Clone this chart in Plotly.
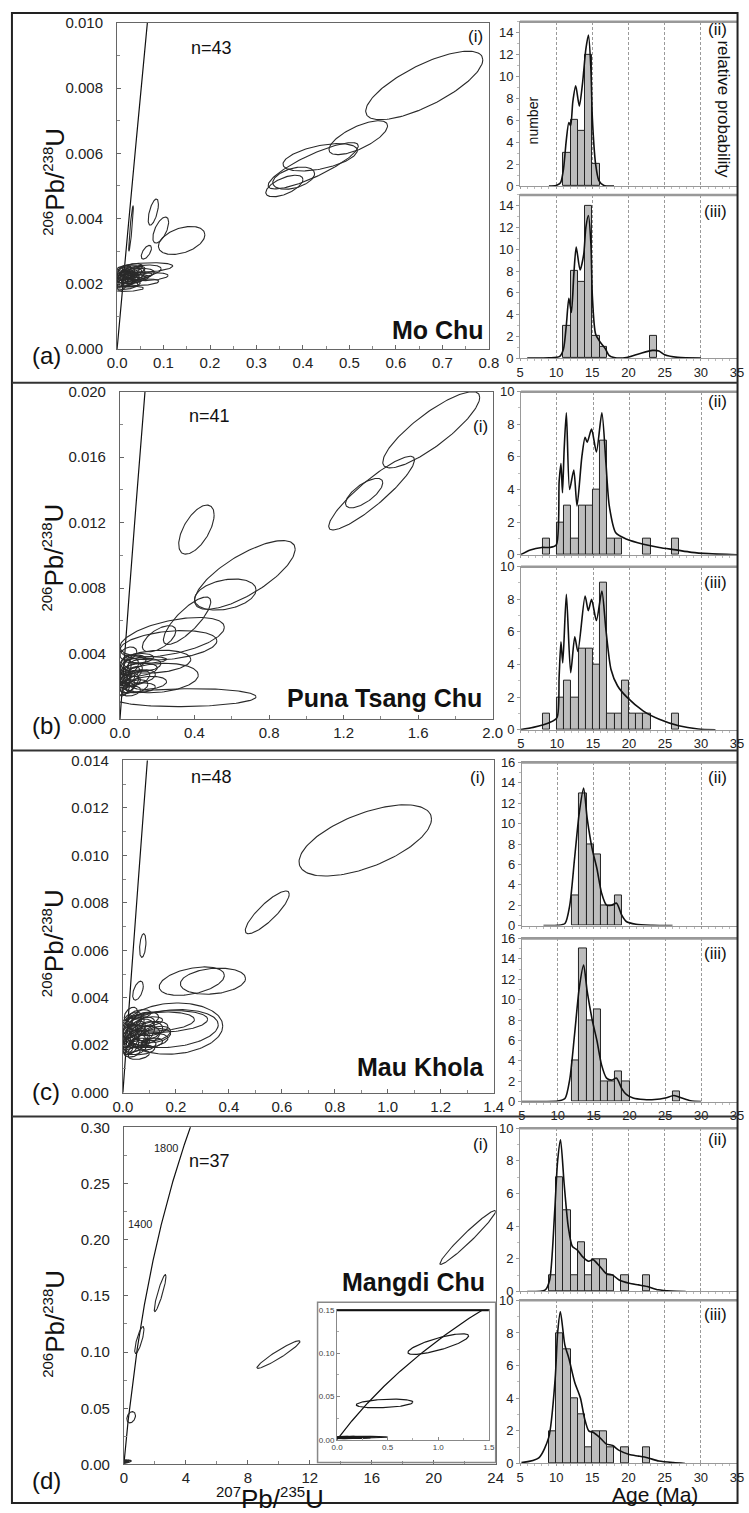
import numpy as np
import plotly.graph_objects as go

W, H = 749, 1513
FONT = "Liberation Sans, Arial, Helvetica, sans-serif"

# ---------------- decay constants (concordia reference curve) ----------------
L238 = 1.55125e-10
L235 = 9.8485e-10

# ---------------- concordia ellipses (centre, half-widths, correlation) -------
# (a) Mo Chu
A_CX = [0.661, 0.519, 0.422, 0.437, 0.380, 0.360, 0.030, 0.078, 0.094, 0.139, 0.063,
        0.060, 0.050, 0.040, 0.030, 0.022, 0.025, 0.020, 0.015, 0.018, 0.028, 0.035,
        0.012, 0.010, 0.033, 0.045, 0.020, 0.008, 0.038, 0.026, 0.016, 0.042, 0.030,
        0.022, 0.035, 0.014, 0.048, 0.024, 0.070, 0.055, 0.012, 0.028, 0.040]
A_CY = [0.00808, 0.00648, 0.00562, 0.00588, 0.00524, 0.00500, 0.00370, 0.00420, 0.00365,
        0.00333, 0.00297, 0.00250, 0.00238, 0.00230, 0.00225, 0.00185, 0.00215, 0.00230,
        0.00220, 0.00205, 0.00240, 0.00215, 0.00240, 0.00210, 0.00250, 0.00225, 0.00195,
        0.00225, 0.00232, 0.00228, 0.00245, 0.00242, 0.00200, 0.00222, 0.00225, 0.00232,
        0.00218, 0.00210, 0.00222, 0.00205, 0.00200, 0.00235, 0.00218]
A_SX = [0.126, 0.063, 0.097, 0.080, 0.045, 0.040, 0.005, 0.011, 0.017, 0.050, 0.011,
        0.060, 0.045, 0.040, 0.030, 0.035, 0.022, 0.018, 0.015, 0.016, 0.020, 0.025,
        0.012, 0.010, 0.022, 0.030, 0.025, 0.010, 0.015, 0.012, 0.014, 0.018, 0.020,
        0.010, 0.010, 0.008, 0.020, 0.015, 0.040, 0.035, 0.012, 0.006, 0.008]
A_SY = [0.00105, 0.00052, 0.00071, 0.00042, 0.00034, 0.00033, 0.00070, 0.00040, 0.00040,
        0.00043, 0.00021, 0.00015, 0.00020, 0.00018, 0.00025, 0.00008, 0.00022, 0.00020,
        0.00018, 0.00015, 0.00016, 0.00014, 0.00015, 0.00020, 0.00012, 0.00012, 0.00012,
        0.00025, 0.00015, 0.00012, 0.00012, 0.00012, 0.00010, 0.00010, 0.00010, 0.00012,
        0.00010, 0.00016, 0.00012, 0.00010, 0.00020, 0.00008, 0.00008]
A_RHO = [0.75, 0.70, 0.85, 0.50, 0.40, 0.60, 0.90, 0.60, 0.60, 0.40, 0.60,
         0.30, 0.40, 0.30, 0.50, 0.20, 0.40, 0.50, 0.40, 0.30, 0.40, 0.30,
         0.50, 0.50, 0.30, 0.30, 0.30, 0.50, 0.50, 0.50, 0.40, 0.40, 0.30,
         0.50, 0.50, 0.60, 0.30, 0.40, 0.30, 0.30, 0.50, 0.50, 0.50]

# (b) Puna Tsang Chu
B_CX = [1.67, 1.35, 1.31, 0.41, 0.67, 0.565, 0.36, 0.21, 0.28, 0.26, 0.19, 0.20, 0.35, 0.15,
        0.10, 0.08, 0.05, 0.04, 0.06, 0.03, 0.02, 0.07, 0.12, 0.05, 0.09, 0.03, 0.15, 0.04,
        0.02, 0.08, 0.06, 0.11, 0.045, 0.025, 0.10, 0.035, 0.075, 0.055, 0.015, 0.13, 0.045]
B_CY = [0.01767, 0.0138, 0.0138, 0.01157, 0.0088, 0.0076, 0.0060, 0.0049, 0.0050, 0.0045,
        0.0035, 0.0025, 0.0013, 0.0036, 0.0030, 0.0025, 0.0022, 0.0020, 0.0028, 0.0024,
        0.0018, 0.0023, 0.0026, 0.0032, 0.0020, 0.0029, 0.0022, 0.0026, 0.0023, 0.0035,
        0.0017, 0.0019, 0.0040, 0.0033, 0.0037, 0.0021, 0.0029, 0.0025, 0.0026, 0.0033, 0.0019]
B_SX = [0.26, 0.23, 0.10, 0.095, 0.27, 0.165, 0.127, 0.09, 0.28, 0.26, 0.19, 0.22, 0.38, 0.10,
        0.10, 0.08, 0.05, 0.04, 0.06, 0.03, 0.03, 0.04, 0.07, 0.05, 0.06, 0.03, 0.10, 0.02,
        0.02, 0.06, 0.05, 0.08, 0.045, 0.025, 0.08, 0.015, 0.03, 0.025, 0.015, 0.09, 0.03]
B_SY = [0.00233, 0.00225, 0.0009, 0.0015, 0.0021, 0.00095, 0.00145, 0.0008, 0.0012, 0.0009,
        0.0007, 0.0009, 0.00055, 0.0002, 0.0004, 0.0005, 0.0006, 0.0004, 0.0006, 0.0005,
        0.0004, 0.0003, 0.0004, 0.0005, 0.0004, 0.0007, 0.0004, 0.0003, 0.0004, 0.0004,
        0.0003, 0.0003, 0.0004, 0.0006, 0.0003, 0.0003, 0.0003, 0.0003, 0.0005, 0.0004, 0.0003]
B_RHO = [0.85, 0.90, 0.70, 0.60, 0.75, 0.30, 0.80, 0.60, 0.50, 0.30, 0.20, 0.20, 0.10, 0.20,
         0.30, 0.40, 0.50, 0.40, 0.50, 0.50, 0.40, 0.30, 0.30, 0.40, 0.30, 0.60, 0.20, 0.50,
         0.50, 0.30, 0.30, 0.20, 0.30, 0.50, 0.20, 0.50, 0.40, 0.40, 0.60, 0.20, 0.30]

# (c) Mau Khola
C_CX = [0.915, 0.545, 0.075, 0.057, 0.26, 0.34, 0.187, 0.18, 0.16, 0.14,
        0.06, 0.05, 0.08, 0.04, 0.03, 0.07, 0.10, 0.09, 0.02, 0.05, 0.04, 0.11, 0.03, 0.06,
        0.015, 0.12, 0.07, 0.025, 0.045, 0.085, 0.035, 0.10, 0.055, 0.02, 0.13, 0.065, 0.04,
        0.075, 0.015, 0.095, 0.05, 0.03, 0.11, 0.06, 0.025, 0.085, 0.045, 0.07]
C_CY = [0.01063, 0.0076, 0.0062, 0.0043, 0.0047, 0.0047, 0.0027, 0.0027, 0.0030, 0.0030,
        0.0025, 0.0022, 0.0024, 0.0028, 0.0020, 0.0029, 0.0022, 0.0026, 0.0024, 0.0019,
        0.0031, 0.0027, 0.0026, 0.0021, 0.0029, 0.0024, 0.0018, 0.0022, 0.0024, 0.0031,
        0.0017, 0.0030, 0.0027, 0.0019, 0.0025, 0.0033, 0.0021, 0.0023, 0.0022, 0.0020,
        0.0030, 0.0033, 0.0021, 0.0016, 0.0027, 0.0021, 0.0026, 0.0026]
C_SX = [0.25, 0.083, 0.012, 0.020, 0.123, 0.123, 0.19, 0.18, 0.16, 0.13,
        0.06, 0.05, 0.06, 0.04, 0.03, 0.05, 0.07, 0.06, 0.03, 0.04, 0.03, 0.06, 0.02, 0.03,
        0.02, 0.06, 0.05, 0.02, 0.02, 0.05, 0.03, 0.05, 0.03, 0.02, 0.05, 0.04, 0.015,
        0.02, 0.015, 0.03, 0.02, 0.025, 0.04, 0.04, 0.01, 0.015, 0.012, 0.015]
C_SY = [0.0015, 0.0009, 0.0005, 0.0004, 0.0006, 0.00055, 0.00108, 0.0008, 0.00046, 0.0004,
        0.0006, 0.0005, 0.0004, 0.0005, 0.0004, 0.0003, 0.0003, 0.0004, 0.0005, 0.0003,
        0.0003, 0.0003, 0.0003, 0.0002, 0.0004, 0.0003, 0.0002, 0.0003, 0.0002, 0.0003,
        0.0002, 0.0002, 0.0003, 0.0003, 0.0003, 0.0002, 0.0002, 0.0002, 0.0004, 0.0002,
        0.0002, 0.0003, 0.0002, 0.0002, 0.0002, 0.0002, 0.0002, 0.0002]
C_RHO = [0.60, 0.85, 0.30, 0.50, 0.40, 0.20, 0.10, 0.20, 0.20, 0.20,
         0.40, 0.40, 0.30, 0.50, 0.40, 0.30, 0.30, 0.30, 0.50, 0.30, 0.40, 0.30, 0.50, 0.30,
         0.50, 0.30, 0.30, 0.50, 0.50, 0.30, 0.30, 0.30, 0.40, 0.40, 0.30, 0.30, 0.50,
         0.40, 0.50, 0.30, 0.40, 0.40, 0.30, 0.30, 0.50, 0.40, 0.50, 0.40]

# (d) Mangdi Chu
D_CX = [22.2, 9.98, 2.34, 1.0, 0.47,
        0.05, 0.08, 0.04, 0.12, 0.25, 0.10, 0.03, 0.06, 0.15, 0.02, 0.07, 0.09, 0.035, 0.18,
        0.045, 0.11, 0.06, 0.03, 0.20, 0.08, 0.05, 0.14, 0.025, 0.065, 0.10, 0.04, 0.16,
        0.07, 0.03, 0.12, 0.055, 0.09]
D_CY = [0.202, 0.0978, 0.1525, 0.1107, 0.0420,
        0.0025, 0.0022, 0.0020, 0.0030, 0.0028, 0.0018, 0.0017, 0.0035, 0.0024, 0.0022,
        0.0016, 0.0027, 0.0030, 0.0020, 0.0024, 0.0023, 0.0019, 0.0026, 0.0032, 0.0031,
        0.0017, 0.0017, 0.0019, 0.0024, 0.0035, 0.0033, 0.0029, 0.0028, 0.0022, 0.0021,
        0.0029, 0.0019]
D_SX = [1.8, 1.39, 0.38, 0.30, 0.28,
        0.05, 0.07, 0.04, 0.12, 0.25, 0.10, 0.03, 0.06, 0.15, 0.02, 0.05, 0.06, 0.03, 0.15,
        0.025, 0.08, 0.04, 0.025, 0.18, 0.05, 0.03, 0.10, 0.02, 0.03, 0.08, 0.03, 0.12,
        0.04, 0.015, 0.06, 0.02, 0.05]
D_SY = [0.024, 0.0123, 0.0165, 0.012, 0.005,
        0.0005, 0.0004, 0.0004, 0.0006, 0.0010, 0.0005, 0.0003, 0.0005, 0.0007, 0.0004,
        0.0003, 0.0004, 0.0004, 0.0005, 0.0003, 0.0004, 0.0003, 0.0004, 0.0008, 0.0004,
        0.0002, 0.0004, 0.0003, 0.0003, 0.0005, 0.0004, 0.0005, 0.0003, 0.0002, 0.0003,
        0.0003, 0.0003]
D_RHO = [0.97, 0.95, 0.90, 0.80, 0.30,
         0.40, 0.30, 0.40, 0.30, 0.20, 0.30, 0.40, 0.30, 0.20, 0.50, 0.30, 0.30, 0.40, 0.20,
         0.40, 0.30, 0.30, 0.50, 0.20, 0.30, 0.30, 0.20, 0.40, 0.40, 0.30, 0.40, 0.20,
         0.30, 0.50, 0.30, 0.40, 0.30]

# ---------------- age histograms (1 Ma bins, left edge) -----------------------
A2_BINS = [11, 12, 13, 14, 15]
A2_N = [3, 6, 5, 12, 2]
A3_BINS = [11, 12, 13, 14, 15, 16, 23]
A3_N = [3, 8, 7, 14, 2, 1, 2]
B2_BINS = [8, 10, 11, 12, 13, 14, 15, 16, 17, 18, 22, 26]
B2_N = [1, 2, 3, 1, 3, 3, 4, 7, 1, 1, 1, 1]
B3_BINS = [8, 10, 11, 12, 13, 14, 15, 16, 17, 18, 19, 20, 21, 22, 26]
B3_N = [1, 2, 3, 2, 5, 5, 4, 9, 1, 1, 3, 1, 1, 1, 1]
C2_BINS = [12, 13, 14, 15, 16, 17, 18]
C2_N = [3, 13, 8, 7, 2, 2, 3]
C3_BINS = [12, 13, 14, 15, 16, 17, 18, 19, 26]
C3_N = [4, 15, 8, 9, 2, 2, 3, 2, 1]
D2_BINS = [9, 10, 11, 12, 13, 14, 15, 16, 17, 19, 22]
D2_N = [1, 7, 5, 1, 3, 1, 2, 2, 1, 1, 1]
D3_BINS = [9, 10, 11, 12, 13, 14, 15, 16, 17, 19, 22]
D3_N = [2, 8, 7, 4, 3, 1, 2, 2, 1, 1, 1]

# ---------------- relative probability curves -------------
A2_AGE = [9.0, 10.0, 10.6, 11.0, 11.4, 11.75, 12.0, 12.3, 12.7, 13.2, 13.66, 14.1, 14.46, 14.8, 15.0, 15.45, 15.9, 16.6, 18.0]
A2_P = [0, 0.05, 0.3, 1.5, 4.2, 5.8, 5.5, 7.7, 9.15, 7.3, 9.5, 12.5, 13.8, 10.7, 6.2, 2.0, 0.5, 0.05, 0]
A3_AGE = [6.0, 9.0, 10.5, 11.0, 11.4, 11.75, 12.1, 12.45, 12.77, 13.3, 13.8, 14.1, 14.46, 14.8, 15.0, 15.45,
          16.1, 16.8, 17.3, 18.0, 19.7, 21.5, 23.3, 24.2, 25.0, 26.8, 30.0]
A3_P = [0, 0.02, 0.15, 0.8, 3.0, 5.5, 4.2, 7.8, 10.2, 8.1, 9.5, 12.0, 13.1, 10.5, 5.7, 2.2,
        1.45, 0.85, 0.25, 0.05, 0.05, 0.4, 0.7, 0.65, 0.3, 0.06, 0]
B2_AGE = [5.0, 6.3, 7.9, 9.0, 9.9, 10.3, 10.55, 10.76, 11.0, 11.3, 11.75, 12.33, 12.78, 13.45, 13.9, 14.2,
          14.8, 15.47, 16.23, 16.8, 17.26, 18.16, 19.7, 22.0, 24.2, 26.5, 28.7, 31.0, 35.0]
B2_P = [0.02, 0.3, 0.45, 0.45, 0.6, 4.5, 5.6, 3.8, 6.5, 8.7, 4.0, 5.2, 3.0, 6.0, 7.2, 6.9,
        7.7, 6.3, 8.7, 5.6, 3.0, 1.35, 0.95, 0.65, 0.45, 0.3, 0.15, 0.07, 0.0]
B3_AGE = [5.0, 6.7, 9.0, 10.0, 10.3, 10.55, 10.8, 11.3, 11.9, 12.47, 12.9, 13.9, 14.35, 14.8, 15.47, 16.23,
          16.8, 17.5, 18.4, 19.7, 22.0, 24.2, 26.9, 29.6, 32.0]
B3_P = [0.02, 0.15, 0.45, 0.75, 3.3, 5.4, 4.1, 8.3, 3.5, 5.7, 4.8, 8.2, 7.3, 8.0, 6.7, 8.5,
        6.1, 3.7, 2.7, 2.0, 1.15, 0.65, 0.25, 0.05, 0]
C2_AGE = [8.0, 10.0, 11.0, 11.67, 12.34, 13.0, 13.6, 14.1, 14.8, 15.45, 16.1, 16.8, 17.5, 18.2, 18.9,
          19.55, 20.9, 23.2, 26.0]
C2_P = [0, 0.02, 0.2, 2.0, 6.6, 11.1, 13.5, 10.5, 7.5, 5.6, 3.2, 2.0, 2.0, 2.2, 1.05, 0.4, 0.13, 0.03, 0]
C3_AGE = [5.0, 8.0, 10.0, 11.0, 11.67, 12.34, 13.0, 13.6, 14.1, 14.8, 15.45, 16.1, 16.8, 17.5, 18.2,
          18.9, 19.55, 20.5, 22.0, 23.5, 25.0, 26.2, 27.3, 28.5, 30.0]
C3_P = [0, 0.01, 0.05, 0.3, 2.2, 6.6, 11.2, 13.4, 10.8, 8.0, 6.0, 3.6, 2.3, 2.1, 2.3,
        1.3, 0.7, 0.35, 0.2, 0.2, 0.35, 0.6, 0.35, 0.08, 0]
D2_AGE = [6.0, 8.5, 9.1, 9.78, 10.2, 10.6, 11.1, 11.66, 12.24, 12.9, 13.6, 14.5, 15.1, 16.0, 16.9, 17.8,
          18.7, 20.1, 21.4, 22.6, 24.1, 25.9, 27.9]
D2_P = [0, 0.1, 0.7, 4.8, 8.0, 9.3, 6.6, 4.0, 2.75, 2.55, 2.15, 1.85, 1.95, 1.55, 1.1, 1.0,
        0.7, 0.5, 0.4, 0.3, 0.1, 0.02, 0]
D3_AGE = [5.2, 7.6, 8.97, 9.86, 10.2, 10.58, 11.2, 11.75, 12.55, 13.36, 13.9, 14.5, 15.15, 16.0, 16.9,
          17.8, 18.7, 20.1, 21.4, 22.6, 24.2, 26.2, 27.8]
D3_P = [0.05, 0.35, 1.6, 5.2, 8.0, 9.3, 7.25, 6.45, 5.0, 4.0, 2.8, 2.0, 1.9, 1.6, 1.2,
        1.1, 0.8, 0.55, 0.45, 0.35, 0.15, 0.05, 0]

SITES = ["Mo Chu", "Puna Tsang Chu", "Mau Khola", "Mangdi Chu"]
N_LABELS = ["n=43", "n=41", "n=48", "n=37"]
PANEL_LETTERS = ["(a)", "(b)", "(c)", "(d)"]

# ---------------- layout geometry (pixels) -----------------------------------
ROWS = [
    dict(conc=(110, 14, 492, 344), h2=(524, 13, 747, 179), h3=(524, 188, 747, 353)),
    dict(conc=(113, 387, 496, 718), h2=(525, 387, 747, 552), h3=(525, 564, 747, 729)),
    dict(conc=(116, 760, 497, 1096), h2=(526, 762, 747, 927), h3=(526, 940, 747, 1105)),
    dict(conc=(117, 1131, 499, 1472), h2=(524, 1132, 747, 1297), h3=(524, 1306, 747, 1471)),
]
SUBLABEL_DY = [(8, 17), (10, 16), (15, 15), (11, 14)]
CONC_X = [dict(range=[0, 0.8], dtick=0.1, fmt=".1f", minor=0.05),
          dict(range=[0, 2.0], dtick=0.4, fmt=".1f", minor=0.2),
          dict(range=[0, 1.4], dtick=0.2, fmt=".1f", minor=0.1),
          dict(range=[0, 24], dtick=4, fmt="d", minor=2)]
CONC_Y = [dict(range=[0, 0.010], dtick=0.002, fmt=".3f", minor=0.001),
          dict(range=[0, 0.020], dtick=0.004, fmt=".3f", minor=0.002),
          dict(range=[0, 0.014], dtick=0.002, fmt=".3f", minor=0.001),
          dict(range=[0, 0.30], dtick=0.05, fmt=".2f", minor=0.025)]
HIST_YMAX = [15, 10, 16, 10]

ELL = [(A_CX, A_CY, A_SX, A_SY, A_RHO), (B_CX, B_CY, B_SX, B_SY, B_RHO),
       (C_CX, C_CY, C_SX, C_SY, C_RHO), (D_CX, D_CY, D_SX, D_SY, D_RHO)]
HISTS = [((A2_BINS, A2_N, A2_AGE, A2_P), (A3_BINS, A3_N, A3_AGE, A3_P)),
         ((B2_BINS, B2_N, B2_AGE, B2_P), (B3_BINS, B3_N, B3_AGE, B3_P)),
         ((C2_BINS, C2_N, C2_AGE, C2_P), (C3_BINS, C3_N, C3_AGE, C3_P)),
         ((D2_BINS, D2_N, D2_AGE, D2_P), (D3_BINS, D3_N, D3_AGE, D3_P))]


def dx(p0, p1):
    return [p0 / W, p1 / W]


def dy(p0, p1):
    return [1 - p1 / H, 1 - p0 / H]


def px(x):
    return x / W


def py(y):
    return 1 - y / H


def ellipse_xy(cx, cy, sx, sy, rho):
    t = np.linspace(0, 2 * np.pi, 140)
    xs, ys = [], []
    for a, b, c, d, r in zip(cx, cy, sx, sy, rho):
        xs += list(a + c * np.cos(t)) + [None]
        ys += list(b + d * (r * np.cos(t) + np.sqrt(1 - r * r) * np.sin(t))) + [None]
    return xs, ys


def concordia(t_max_ma):
    t = np.linspace(0, t_max_ma * 1e6, 600)
    return np.exp(L235 * t) - 1, np.exp(L238 * t) - 1


fig = go.Figure()
layout = {}
annotations = []
shapes = []


def ax_name(i, kind):
    return f"{kind}axis" if i == 1 else f"{kind}axis{i}"


def ref(i, kind):
    return kind if i == 1 else f"{kind}{i}"


def ann(text, x, y, size, bold=False, xanchor="center", angle=0, color="#111"):
    """x, y in figure pixels from the top-left corner."""
    if bold:
        text = f"<b>{text}</b>"
    annotations.append(dict(text=text, x=px(x), y=py(y), xref="paper", yref="paper", showarrow=False,
                            xanchor=xanchor, yanchor="middle", textangle=angle,
                            font=dict(family=FONT, size=size, color=color)))


def sup(s, size=15):
    return f"<sup><span style='font-size:{size}px'>{s}</span></sup>"


CONC_T_MAX = [70, 140, 100, 1700]

for r, row in enumerate(ROWS):
    ic, i2, i3 = 3 * r + 1, 3 * r + 2, 3 * r + 3
    # ---------- concordia panel ----------
    x0, y0, x1, y1 = row["conc"]
    cxs, cys = CONC_X[r], CONC_Y[r]
    layout[ax_name(ic, "x")] = dict(
        domain=dx(x0, x1), anchor=ref(ic, "y"), range=cxs["range"], dtick=cxs["dtick"], tick0=0,
        tickformat=cxs["fmt"], showline=True, mirror=True, linecolor="#666", linewidth=1,
        ticks="inside", ticklen=4, tickcolor="#666", showgrid=False, zeroline=False,
        tickfont=dict(family=FONT, size=15, color="#222"),
        minor=dict(dtick=cxs["minor"], ticks="inside", ticklen=3, tickcolor="#888"))
    layout[ax_name(ic, "y")] = dict(
        domain=dy(y0, y1), anchor=ref(ic, "x"), range=cys["range"], dtick=cys["dtick"], tick0=0,
        tickformat=cys["fmt"], showline=True, mirror=True, linecolor="#666", linewidth=1,
        ticks="inside", ticklen=4, tickcolor="#666", showgrid=False, zeroline=False,
        ticklabelstandoff=10,
        tickfont=dict(family=FONT, size=15, color="#222"),
        minor=dict(dtick=cys["minor"], ticks="inside", ticklen=3, tickcolor="#888"))
    cx_, cy_ = concordia(CONC_T_MAX[r])
    fig.add_trace(go.Scatter(x=cx_, y=cy_, mode="lines", line=dict(color="#111", width=1.2),
                             xaxis=ref(ic, "x"), yaxis=ref(ic, "y"), hoverinfo="skip"))
    ex, ey = ellipse_xy(*ELL[r])
    fig.add_trace(go.Scatter(x=ex, y=ey, mode="lines", line=dict(color="#2a2a2a", width=1.1),
                             xaxis=ref(ic, "x"), yaxis=ref(ic, "y"), hoverinfo="skip"))

    # ---------- histograms ----------
    for k, (ii, key) in enumerate([(i2, "h2"), (i3, "h3")]):
        hx0, hy0, hx1, hy1 = row[key]
        bins, counts, ages, probs = HISTS[r][k]
        layout[ax_name(ii, "x")] = dict(
            domain=dx(hx0, hx1), anchor=ref(ii, "y"), range=[5, 35],
            tickvals=[5, 10, 15, 20, 25, 30, 35], showticklabels=(k == 1),
            showline=True, mirror=True, linecolor="#999", linewidth=1,
            ticks="outside", ticklen=2, tickcolor="#999",
            showgrid=True, gridcolor="#9a9a9a", griddash="3px,2px", gridwidth=1, zeroline=False,
            tickfont=dict(family=FONT, size=13, color="#222"),
            minor=dict(dtick=1, ticks="outside", ticklen=2, tickcolor="#bbb"))
        layout[ax_name(ii, "y")] = dict(
            domain=dy(hy0, hy1), anchor=ref(ii, "x"), range=[0, HIST_YMAX[r]], dtick=2,
            showline=True, mirror=True, linecolor="#999", linewidth=1,
            ticks="outside", ticklen=3, tickcolor="#999", showgrid=False, zeroline=False,
            tickfont=dict(family=FONT, size=13, color="#222"),
            minor=dict(dtick=1, ticks="outside", ticklen=2, tickcolor="#bbb"))
        fig.add_trace(go.Bar(x=[b + 0.5 for b in bins], y=counts, width=1,
                             marker=dict(color="#bdbdbd", line=dict(color="#222", width=1)),
                             xaxis=ref(ii, "x"), yaxis=ref(ii, "y"), hoverinfo="skip"))
        fig.add_trace(go.Scatter(x=ages, y=probs, mode="lines",
                                 line=dict(color="#111", width=1.6, shape="spline", smoothing=0.7),
                                 xaxis=ref(ii, "x"), yaxis=ref(ii, "y"), hoverinfo="skip"))
        # thick grey top border
        shapes.append(dict(type="line", xref="paper", yref="paper", x0=px(hx0), x1=px(hx1),
                           y0=py(hy0), y1=py(hy0), line=dict(color="#999", width=2.5)))
        ann("(ii)" if k == 0 else "(iii)", hx1 - 8, hy0 + SUBLABEL_DY[r][k], 17, xanchor="right")

# ---------- inset in (d) ----------
INS = 13
layout[ax_name(INS, "x")] = dict(
    domain=dx(336, 492), anchor=ref(INS, "y"), range=[0, 1.5], tickvals=[0, 0.5, 1.0, 1.5],
    ticktext=["0.0", "0.5", "1.0", "1.5"], showline=True, mirror=True, linecolor="#888",
    ticks="inside", ticklen=3, tickcolor="#888", showgrid=False, zeroline=False,
    tickfont=dict(family=FONT, size=8, color="#444"),
    minor=dict(dtick=0.25, ticks="inside", ticklen=2, tickcolor="#aaa"))
layout[ax_name(INS, "y")] = dict(
    domain=dy(1316, 1447), anchor=ref(INS, "x"), range=[0, 0.15], tickvals=[0, 0.05, 0.10, 0.15],
    ticktext=["0.00", "0.05", "0.10", "0.15"], showline=True, mirror=True, linecolor="#888",
    ticks="inside", ticklen=3, tickcolor="#888", showgrid=False, zeroline=False,
    tickfont=dict(family=FONT, size=8, color="#444"),
    minor=dict(dtick=0.025, ticks="inside", ticklen=2, tickcolor="#aaa"))
icx, icy = concordia(1000)
fig.add_trace(go.Scatter(x=icx, y=icy, mode="lines", line=dict(color="#111", width=1.2),
                         xaxis=ref(INS, "x"), yaxis=ref(INS, "y"), hoverinfo="skip"))
iex, iey = ellipse_xy(*ELL[3])
fig.add_trace(go.Scatter(x=iex, y=iey, mode="lines", line=dict(color="#1a1a1a", width=1.2),
                         xaxis=ref(INS, "x"), yaxis=ref(INS, "y"), hoverinfo="skip"))
shapes.append(dict(type="rect", xref="paper", yref="paper", x0=px(316), x1=px(499),
                   y0=py(1470), y1=py(1308), line=dict(color="#888", width=1.5)))
shapes.append(dict(type="line", xref="paper", yref="paper", x0=px(336), x1=px(492),
                   y0=py(1316), y1=py(1316), line=dict(color="#111", width=2)))

# ---------- text ----------
YT = sup("206") + "Pb/" + sup("238") + "U"
LETTER_Y = [350, 725, 1095, 1488]
NLAB = [(207, 39), (205, 412), (207, 777), (205, 1165)]
ILAB = [(478, 28), (483, 422), (480, 777), (483, 1148)]
SITE_POS = [(440, 325), (385, 697), (422, 1070), (415, 1287)]
YT_Y = [175, 555, 945, 1330]
for r in range(4):
    ann(PANEL_LETTERS[r], 37, LETTER_Y[r], 24)
    ann(N_LABELS[r], NLAB[r][0], NLAB[r][1], 18)
    ann("(i)", ILAB[r][0], ILAB[r][1], 17)
    ann(SITES[r], SITE_POS[r][0], SITE_POS[r][1], 25, bold=True)
    ann(YT, 45, YT_Y[r], 26, angle=-90)

ann(sup("207") + "Pb/" + sup("235") + "U", 267, 1506, 26)
ann("Age (Ma)", 663, 1502, 21)
ann("number", 537, 113, 14, angle=-90)
ann("relative probability", 733, 102, 17, angle=90)
annotations.append(dict(text="1800", x=2.69, y=0.282, xref="x10", yref="y10", showarrow=False,
                        font=dict(family=FONT, size=11, color="#222")))
annotations.append(dict(text="1400", x=1.01, y=0.214, xref="x10", yref="y10", showarrow=False,
                        font=dict(family=FONT, size=11, color="#222")))

# ---------- frame and row separators ----------
shapes.append(dict(type="rect", xref="paper", yref="paper", x0=px(2), x1=px(747.5),
                   y0=py(1511), y1=py(4), line=dict(color="#222", width=2)))
for sep in [378, 750, 1120]:
    shapes.append(dict(type="line", xref="paper", yref="paper", x0=px(2), x1=px(747.5),
                       y0=py(sep), y1=py(sep), line=dict(color="#333", width=2)))

fig.update_layout(width=W, height=H, autosize=False, margin=dict(l=0, r=0, t=0, b=0),
                  paper_bgcolor="white", plot_bgcolor="white", showlegend=False,
                  annotations=annotations, shapes=shapes, bargap=0, **layout)
fig.write_html("out.html")
